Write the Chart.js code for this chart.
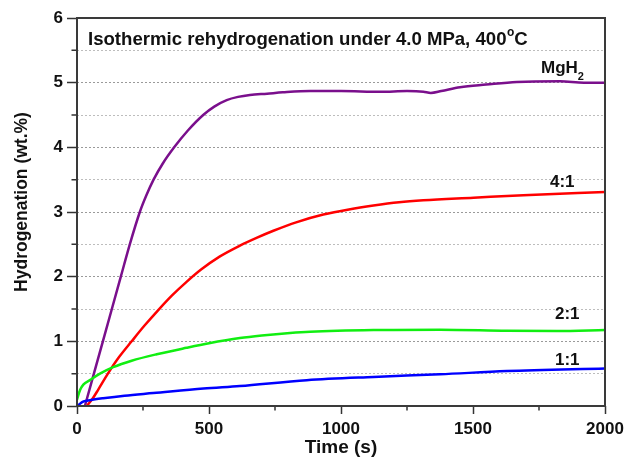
<!DOCTYPE html>
<html>
<head>
<meta charset="utf-8">
<script src="https://cdn.jsdelivr.net/npm/chart.js@4/dist/chart.umd.min.js"></script>
<style>
  html, body { margin: 0; padding: 0; background: #fff; }
  #wrap { width: 630px; height: 464px; }
</style>
</head>
<body>
<div id="wrap"><canvas id="chart" width="630" height="464"></canvas></div>
<script>
// rehydrogenation curves at 400 C, 4.0 MPa
const tMg = [30, 64, 98, 132, 166, 200, 238, 262, 290, 325, 368, 420, 478, 520, 567, 610, 655, 720, 780, 883, 1000, 1150, 1250, 1312, 1340, 1380, 1451, 1550, 1666, 1830, 1920, 2000];
const hMg = [0, 0.5, 1.0, 1.5, 2.0, 2.5, 3.0, 3.25, 3.5, 3.75, 4.0, 4.26, 4.5, 4.63, 4.73, 4.78, 4.81, 4.83, 4.85, 4.87, 4.87, 4.86, 4.87, 4.86, 4.84, 4.87, 4.93, 4.97, 5.01, 5.02, 5.0, 5.0];

const t41 = [37, 60, 80, 117, 160, 207, 255, 307, 360, 415, 470, 540, 617, 680, 744, 830, 933, 1030, 1123, 1220, 1312, 1502, 1691, 2000];
const h41 = [0, 0.12, 0.25, 0.5, 0.76, 1.0, 1.24, 1.48, 1.71, 1.92, 2.11, 2.31, 2.48, 2.6, 2.71, 2.84, 2.96, 3.04, 3.1, 3.15, 3.18, 3.22, 3.26, 3.31];

const t21 = [0, 12, 24, 49, 87, 137, 207, 302, 415, 500, 617, 700, 807, 883, 1123, 1375, 1628, 1817, 2000];
const h21 = [0.1, 0.25, 0.33, 0.40, 0.5, 0.6, 0.7, 0.8, 0.9, 0.97, 1.05, 1.09, 1.13, 1.15, 1.175, 1.18, 1.165, 1.16, 1.175];

const t11 = [0, 25, 49, 99, 180, 289, 479, 617, 870, 1123, 1375, 1628, 2000];
const h11 = [0, 0.07, 0.09, 0.12, 0.16, 0.20, 0.27, 0.31, 0.40, 0.45, 0.49, 0.54, 0.58];

const xTicks = [0, 500, 1000, 1500, 2000];
const yTicks = [0, 1, 2, 3, 4, 5, 6];

const toPts = (xs, ys) => xs.map((x, i) => ({ x: x, y: ys[i] }));

const FONT = "'Liberation Sans', Arial, sans-serif";

// frame, short minor ticks, y title, curve labels and heading
const decorations = {
  id: "decorations",
  afterDraw(chart) {
    const { ctx, chartArea: a, scales: { x, y } } = chart;
    ctx.save();

    // minor ticks (about half the length of the labelled ones)
    ctx.strokeStyle = "#333";
    ctx.lineWidth = 1.5;
    ctx.beginPath();
    for (let v = 250; v < 2000; v += 500) {
      const px = x.getPixelForValue(v);
      ctx.moveTo(px, a.bottom);
      ctx.lineTo(px, a.bottom + 4.5);
    }
    for (let v = 0.5; v < 6; v += 1) {
      const py = y.getPixelForValue(v);
      ctx.moveTo(a.left, py);
      ctx.lineTo(a.left - 5.5, py);
    }
    ctx.stroke();

    ctx.strokeStyle = "#3a3a3a";
    ctx.lineWidth = 2;
    ctx.strokeRect(a.left, a.top, a.right - a.left, a.bottom - a.top);

    ctx.fillStyle = "#111";

    // y axis title
    ctx.save();
    ctx.translate(22.5, 202);
    ctx.rotate(-Math.PI / 2);
    ctx.textAlign = "center";
    ctx.textBaseline = "middle";
    ctx.font = "bold 17.5px " + FONT;
    ctx.fillText("Hydrogenation (wt.%)", 0, 0);
    ctx.restore();

    ctx.textBaseline = "alphabetic";
    ctx.textAlign = "left";

    // heading
    ctx.font = "bold 18.6px " + FONT;
    const head = "Isothermic rehydrogenation under 4.0 MPa, 400";
    ctx.fillText(head, 88, 45);
    let hx = 88 + ctx.measureText(head).width;
    ctx.font = "bold 12px " + FONT;
    ctx.fillText("o", hx + 0.5, 36);
    hx += ctx.measureText("o").width + 0.5;
    ctx.font = "bold 18.6px " + FONT;
    ctx.fillText("C", hx, 45);

    // curve labels
    ctx.font = "bold 17px " + FONT;
    ctx.fillText("MgH", 541, 73);
    const mw = ctx.measureText("MgH").width;
    ctx.font = "bold 11px " + FONT;
    ctx.fillText("2", 541 + mw, 80);
    ctx.font = "bold 17px " + FONT;
    ctx.fillText("4:1", 550, 187);
    ctx.fillText("2:1", 555, 319);
    ctx.fillText("1:1", 555, 365);
    ctx.restore();
  }
};

const line = (label, pts, color) => ({
  label: label,
  data: pts,
  borderColor: color,
  backgroundColor: color,
  borderWidth: 2.5,
  pointRadius: 0,
  cubicInterpolationMode: "monotone",
  fill: false
});

new Chart(document.getElementById("chart"), {
  type: "line",
  data: {
    datasets: [
      line("1:1", toPts(t11, h11), "#0000ff"),
      line("2:1", toPts(t21, h21), "#11ee11"),
      line("4:1", toPts(t41, h41), "#ff0000"),
      line("MgH2", toPts(tMg, hMg), "#7a0f8c")
    ]
  },
  options: {
    responsive: false,
    animation: false,
    events: [],
    layout: { padding: { top: 18, right: 25, left: 0, bottom: 0 } },
    plugins: { legend: { display: false }, tooltip: { enabled: false } },
    scales: {
      x: {
        type: "linear",
        min: 0,
        max: 2000,
        afterFit(s) { s.height = 58; },
        afterBuildTicks(s) {
          s.ticks = xTicks.map((v) => ({ value: v }));
        },
        ticks: {
          color: "#111",
          padding: 5,
          maxRotation: 0,
          font: { family: FONT, size: 17, weight: "bold" },
          callback: (v) => String(v)
        },
        grid: {
          drawOnChartArea: false,
          drawTicks: true,
          tickLength: 8,
          tickColor: "#333",
          tickWidth: 1.5
        },
        border: { display: false },
        title: {
          display: true,
          text: "Time (s)",
          color: "#111",
          font: { family: FONT, size: 19, weight: "bold" },
          padding: { top: 0, bottom: 5 }
        }
      },
      y: {
        min: 0,
        max: 6,
        afterFit(s) { s.width = 77; },
        afterBuildTicks(s) {
          const t = [];
          for (let v = 0; v <= 6; v += 0.5) t.push({ value: v });
          s.ticks = t;
        },
        ticks: {
          color: "#111",
          padding: 4,
          font: { family: FONT, size: 17, weight: "bold" },
          callback: (v) => (yTicks.includes(v) ? String(v) : "")
        },
        grid: {
          drawTicks: true,
          tickLength: 10,
          tickWidth: 1.5,
          lineWidth: 1,
          tickColor: (c) => (c.tick && Number.isInteger(c.tick.value) ? "#333" : "rgba(0,0,0,0)"),
          color: (c) => {
            const v = c.tick ? c.tick.value : 0;
            if (v <= 0 || v >= 6) return "rgba(0,0,0,0)";
            return Number.isInteger(v) ? "#9a9a9a" : "#bdbdbd";
          }
        },
        border: { display: false, dash: [2, 2] }
      }
    }
  },
  plugins: [decorations]
});
</script>
</body>
</html>
